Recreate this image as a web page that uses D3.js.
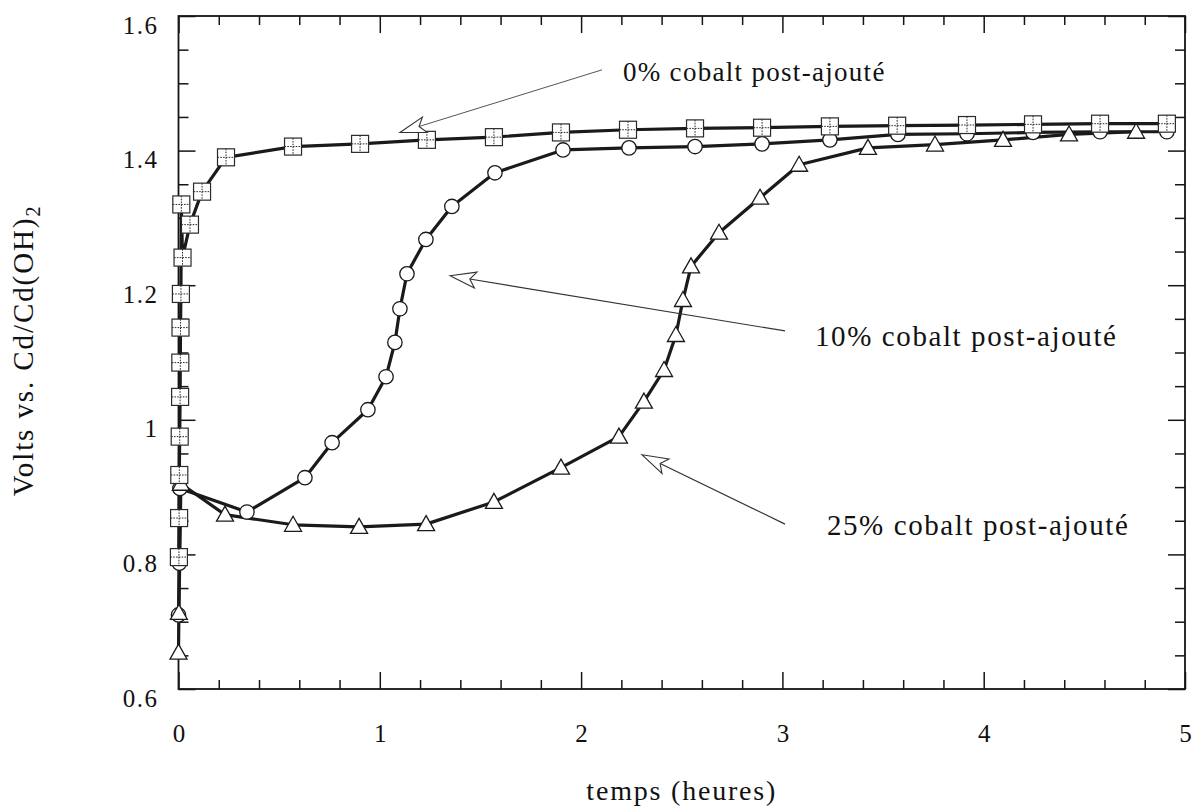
<!DOCTYPE html>
<html><head><meta charset="utf-8">
<script src="https://cdn.jsdelivr.net/npm/d3@7"></script>
<style>
body{margin:0;background:#fff;}
svg{display:block;}
text{font-family:"Liberation Serif","Times New Roman",serif;fill:#111;}
</style>
</head><body>
<svg id="c" width="1197" height="811"></svg>
<script>
// ---------- data ----------
const xTicks = [0, 1, 2, 3, 4, 5];
const xTickLabels = ["0", "1", "2", "3", "4", "5"];
const yTicks = [0.6, 0.8, 1.0, 1.2, 1.4, 1.6];
const yTickLabels = ["0.6", "0.8", "1", "1.2", "1.4", "1.6"];

// 0% cobalt post-ajouté (squares)
const t0 = [0.002, 0.003, 0.004, 0.006, 0.008, 0.009, 0.010, 0.012, 0.014, 0.020, 0.057, 0.117, 0.236,
            0.569, 0.902, 1.234, 1.567, 1.900, 2.233, 2.566, 2.899, 3.236, 3.570, 3.917, 4.245, 4.578, 4.910];
const v0 = [0.796, 0.854, 0.918, 0.975, 1.034, 1.085, 1.137, 1.187, 1.320, 1.241, 1.290, 1.339, 1.390,
            1.406, 1.410, 1.416, 1.420, 1.427, 1.431, 1.433, 1.434, 1.436, 1.437, 1.438, 1.439, 1.440, 1.440];

// 10% cobalt post-ajouté (circles)
const t10 = [0.000, 0.004, 0.007, 0.340, 0.628, 0.763, 0.941, 1.031, 1.075, 1.100, 1.135, 1.229, 1.358,
             1.572, 1.910, 2.238, 2.566, 2.899, 3.236, 3.574, 3.917, 4.245, 4.578, 4.910];
const v10 = [0.710, 0.787, 0.898, 0.863, 0.914, 0.966, 1.015, 1.064, 1.115, 1.165, 1.217, 1.268, 1.317,
             1.367, 1.401, 1.404, 1.406, 1.410, 1.416, 1.424, 1.425, 1.427, 1.428, 1.428];

// 25% cobalt post-ajouté (triangles)
const t25 = [0.000, 0.002, 0.012, 0.231, 0.569, 0.897, 1.230, 1.567, 1.900, 2.188, 2.312, 2.412, 2.471,
             2.506, 2.546, 2.685, 2.889, 3.083, 3.425, 3.758, 4.096, 4.424, 4.757];
const v25 = [0.654, 0.713, 0.905, 0.859, 0.844, 0.841, 0.845, 0.878, 0.929, 0.975, 1.027, 1.074, 1.126,
             1.178, 1.228, 1.278, 1.330, 1.379, 1.404, 1.409, 1.416, 1.424, 1.428];

// annotations (in data coordinates)
const annTexts = ["0% cobalt post-ajouté", "10% cobalt post-ajouté", "25% cobalt post-ajouté"];
const annTextT = [2.208, 3.162, 3.221];
const annTextV = [1.504, 1.109, 0.829];
const annFromT = [2.104, 3.013, 3.013];
const annFromV = [1.520, 1.132, 0.845];
const annTipT  = [1.100, 1.349, 2.303];
const annTipV  = [1.427, 1.214, 0.948];

const xTitle = "temps (heures)";
const yTitleMain = "Volts vs. Cd/Cd(OH)";
const yTitleSub = "2";

// ---------- layout ----------
const FONT = '"Liberation Serif","Times New Roman",serif';
const L = 178.5, R = 1185, T = 16, B = 689;
const svg = d3.select("#c");
const x = d3.scaleLinear().domain([0, 5]).range([L, R]);
const y = d3.scaleLinear().domain([0.6, 1.6]).range([B, T]);

const xMinor = d3.range(0, 5.0001, 0.2).filter(d => Math.abs(d - Math.round(d)) > 1e-6);
const yMinor = d3.range(0.6, 1.6001, 0.05).filter(d => Math.abs(d * 5 - Math.round(d * 5)) > 1e-6);

function styleAxis(g) {
  g.select(".domain").remove();
  g.attr("font-family", null).attr("font-size", null);
  g.selectAll(".tick line").attr("stroke", "#151515").attr("stroke-width", 1.5);
}
// bottom
svg.append("g").attr("transform", `translate(0,${B})`)
  .call(d3.axisBottom(x).tickValues(xMinor).tickSize(-9).tickFormat("")).call(styleAxis);
const gb = svg.append("g").attr("transform", `translate(0,${B})`)
  .call(d3.axisBottom(x).tickValues(xTicks).tickSize(-17).tickPadding(0)
    .tickFormat((d, i) => xTickLabels[i])).call(styleAxis);
gb.selectAll(".tick text").attr("y", 53).attr("dy", 0)
  .style("font-family", FONT).style("font-size", "25px").style("fill", "#111");
// top
svg.append("g").attr("transform", `translate(0,${T})`)
  .call(d3.axisTop(x).tickValues(xMinor).tickSize(-9).tickFormat("")).call(styleAxis);
svg.append("g").attr("transform", `translate(0,${T})`)
  .call(d3.axisTop(x).tickValues(xTicks).tickSize(-17).tickFormat("")).call(styleAxis);
// left
svg.append("g").attr("transform", `translate(${L},0)`)
  .call(d3.axisLeft(y).tickValues(yMinor).tickSize(-10).tickFormat("")).call(styleAxis);
const gl = svg.append("g").attr("transform", `translate(${L},0)`)
  .call(d3.axisLeft(y).tickValues(yTicks).tickSize(-17).tickPadding(20)
    .tickFormat((d, i) => yTickLabels[i])).call(styleAxis);
gl.selectAll(".tick text").attr("x", -20).attr("dy", 17)
  .style("font-family", FONT).style("font-size", "25px").style("letter-spacing", "1.5px").style("fill", "#111");
// right
svg.append("g").attr("transform", `translate(${R},0)`)
  .call(d3.axisRight(y).tickValues(yMinor).tickSize(-10).tickFormat("")).call(styleAxis);
svg.append("g").attr("transform", `translate(${R},0)`)
  .call(d3.axisRight(y).tickValues(yTicks).tickSize(-17).tickFormat("")).call(styleAxis);

// frame
svg.append("rect").attr("x", L).attr("y", T).attr("width", R - L).attr("height", B - T)
  .attr("fill", "none").attr("stroke", "#151515").attr("stroke-width", 1.8);

// ---------- series ----------
const s0 = t0.map((t, i) => ({t, v: v0[i]}));
const s10 = t10.map((t, i) => ({t, v: v10[i]}));
const s25 = t25.map((t, i) => ({t, v: v25[i]}));

const line = d3.line().x(d => x(d.t)).y(d => y(d.v));
[s25, s10, s0].forEach(s => {
  svg.append("path").datum(s).attr("d", line).attr("fill", "none")
    .attr("stroke", "#1a1a1a").attr("stroke-width", 3.2).attr("stroke-linejoin", "round");
});

// circles
svg.append("g").selectAll("circle").data(s10).join("circle")
  .attr("cx", d => x(d.t)).attr("cy", d => y(d.v)).attr("r", 7.2)
  .attr("fill", "#fff").attr("stroke", "#1a1a1a").attr("stroke-width", 1.3);

// triangles
svg.append("g").selectAll("path").data(s25).join("path")
  .attr("transform", d => `translate(${x(d.t)},${y(d.v)})`)
  .attr("d", "M0,-8.5L8.5,6.5L-8.5,6.5Z")
  .attr("fill", "#fff").attr("stroke", "#1a1a1a").attr("stroke-width", 1.3);

// squares with dotted cross
const sq = svg.append("g").selectAll("g").data(s0).join("g")
  .attr("transform", d => `translate(${x(d.t)},${y(d.v)})`);
sq.append("rect").attr("x", -8.5).attr("y", -8.5).attr("width", 17).attr("height", 17)
  .attr("fill", "#fff").attr("stroke", "#2a2a2a").attr("stroke-width", 1.2);
sq.append("path").attr("d", "M0,-8.5V8.5M-8.5,0H8.5")
  .attr("stroke", "#2a2a2a").attr("stroke-width", 1).attr("stroke-dasharray", "1.6,1.2");

// ---------- annotations ----------
annTexts.forEach((txt, i) => {
  const tx = x(annTipT[i]), ty = y(annTipV[i]);
  const fx = x(annFromT[i]), fy = y(annFromV[i]);
  const dx = fx - tx, dy = fy - ty, len = Math.hypot(dx, dy);
  const ux = dx / len, uy = dy / len, nx = -uy, ny = ux;
  const HL = 26, HW = 8, NOTCH = 6;
  const bl = [tx + ux * HL + nx * HW, ty + uy * HL + ny * HW];
  const br = [tx + ux * HL - nx * HW, ty + uy * HL - ny * HW];
  const nt = [tx + ux * (HL - NOTCH), ty + uy * (HL - NOTCH)];
  svg.append("line").attr("x1", fx).attr("y1", fy).attr("x2", nt[0]).attr("y2", nt[1])
    .attr("stroke", i === 0 ? "#555" : "#333").attr("stroke-width", i === 0 ? 1 : 1.2);
  svg.append("path").attr("d", `M${tx},${ty}L${bl[0]},${bl[1]}L${nt[0]},${nt[1]}L${br[0]},${br[1]}Z`)
    .attr("fill", "#fff").attr("stroke", "#333").attr("stroke-width", 1.1);
  svg.append("text").attr("x", x(annTextT[i])).attr("y", y(annTextV[i]))
    .style("font-family", FONT).style("font-size", (i === 0 ? 27 : 29) + "px")
    .style("letter-spacing", (i === 0 ? 1.3 : 1.6) + "px").text(txt);
});

// ---------- titles ----------
svg.append("text").attr("x", (L + R) / 2).attr("y", 800).attr("text-anchor", "middle")
  .style("font-family", FONT).style("font-size", "28px").style("letter-spacing", "1.8px").text(xTitle);

const yt = svg.append("text").attr("transform", `translate(33,${(T + B) / 2 - 2}) rotate(-90)`)
  .attr("text-anchor", "middle")
  .style("font-family", FONT).style("font-size", "29px").style("letter-spacing", "1.9px");
yt.append("tspan").text(yTitleMain);
yt.append("tspan").style("font-size", "20px").attr("dy", 7).text(yTitleSub);
</script>
</body></html>
